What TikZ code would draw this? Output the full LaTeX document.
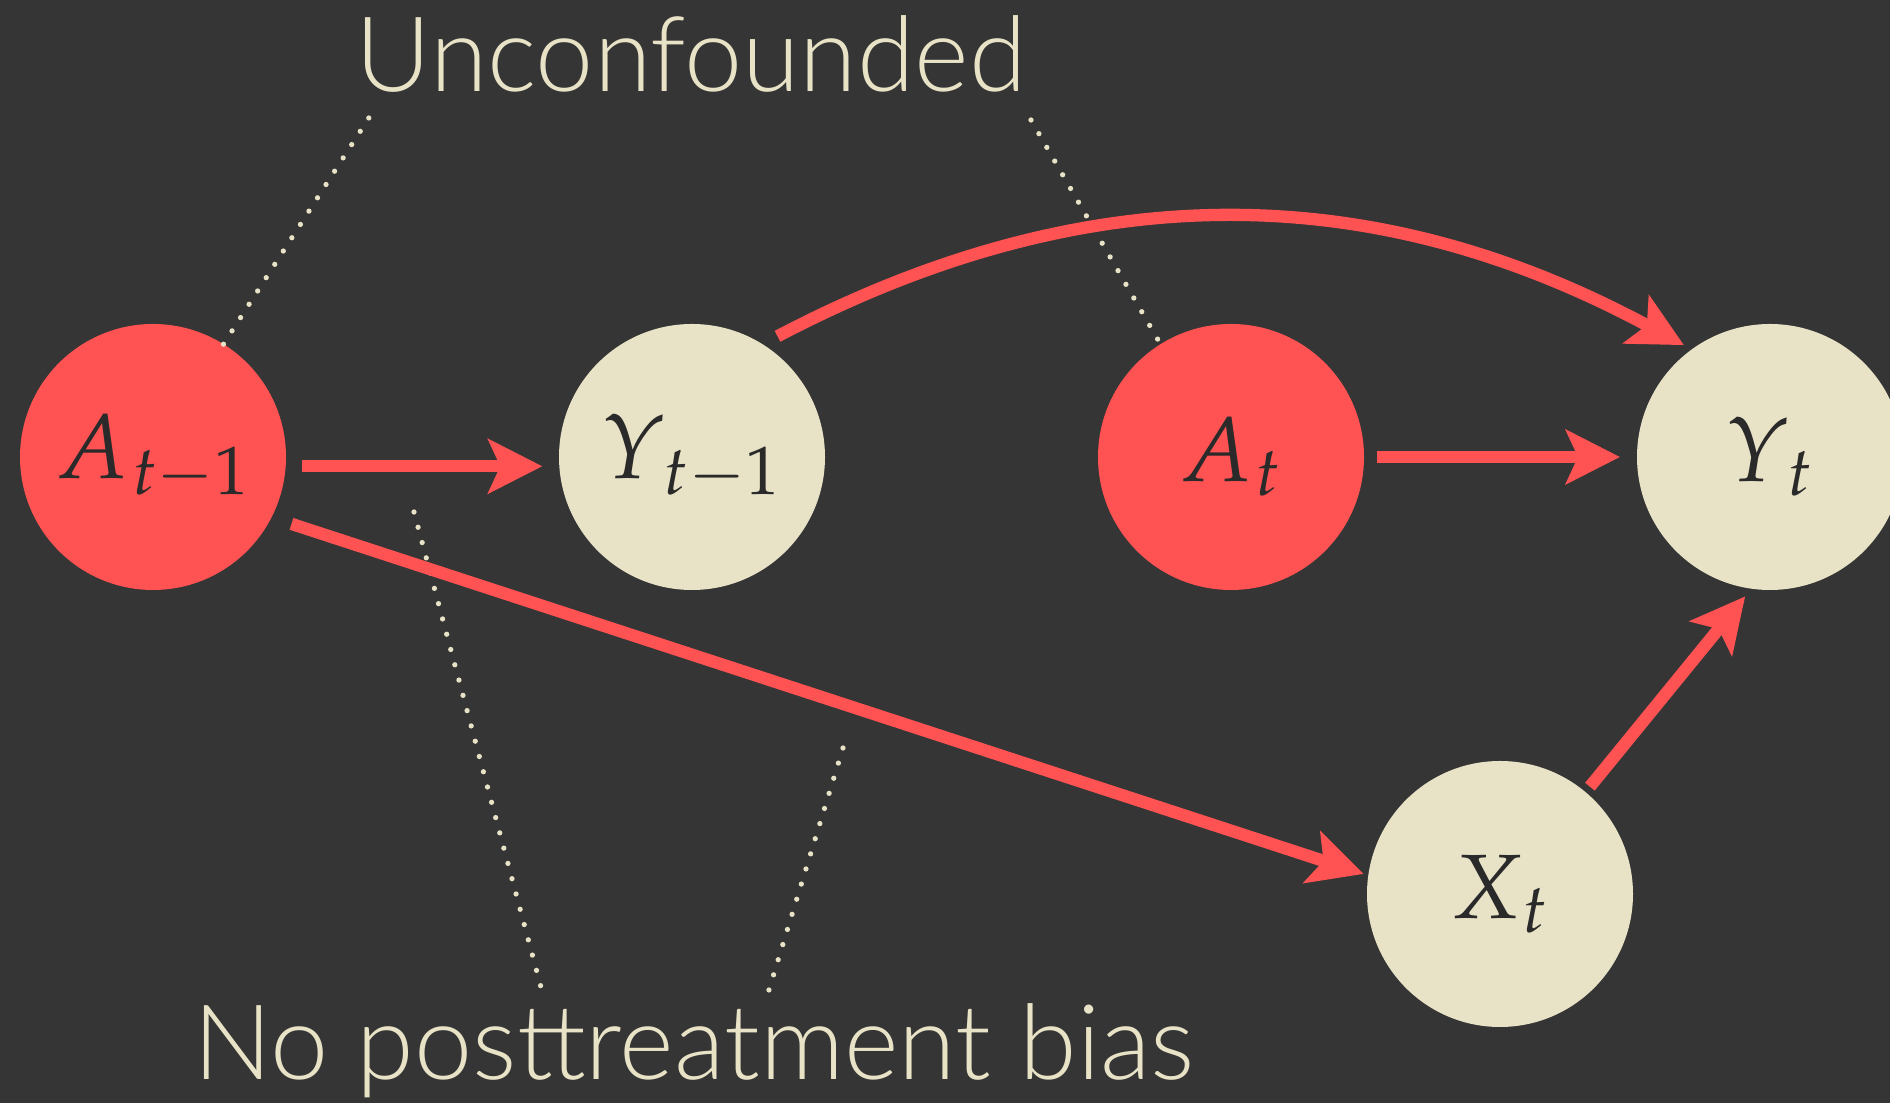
\documentclass[tikz,border=0pt]{standalone}
\usepackage{mathpazo}
\usepackage[no-math]{fontspec}
\usepackage{xcolor}
\usetikzlibrary{arrows.meta, positioning}
\newfontfamily\lightfont{Lato Light}
\DeclareMathSizes{26}{26}{19.5}{14}
\definecolor{bgdark}{HTML}{353535}
\definecolor{redfill}{HTML}{FF5252}
\definecolor{creamfill}{HTML}{E8E3C6}
\definecolor{inkdark}{HTML}{2A2A2A}

\begin{document}
\begin{tikzpicture}[
    node distance=2.73cm,
    var/.style={circle, minimum size=2.66cm, inner sep=0pt, outer sep=0pt, text=inkdark, font=\fontsize{26}{30}\selectfont},
    treat/.style={var, fill=redfill},
    outc/.style={var, fill=creamfill},
    arr/.style={-{Stealth[length=5.4mm, width=5.4mm, inset=1.2mm]}, line width=3.5pt, redfill},
    dots/.style={creamfill, line width=1.5pt, line cap=round, dash pattern=on 0pt off 4.5pt},
    lbl/.style={text=creamfill, font=\lightfont\fontsize{29.7}{34}\selectfont, anchor=base, inner sep=0pt},
]
\fill[bgdark] (0,0) rectangle (18.9,11.03);
\useasboundingbox (0,0) rectangle (18.9,11.03);

% Variables
\node[treat] (at1) at (1.53,6.46) {$A_{\kern1pt t\mathord{-}1}$};
\node[outc, right=of at1] (yt1) {$Y_{\kern2.5pt t\mathord{-}1}$};
\node[treat, right=of yt1] (at) {$A_{\kern1pt t}$};
\node[outc, right=of at] (yt) {$Y_{\kern2.5pt t}$};
\node[outc] (xt) at (15.00,2.09) {$X_{\kern1pt t}$};

% Labels
\node[lbl] (unconf) at (6.91,10.11) {Unconfounded};
\node[lbl] (nopost) at (6.94,0.23) {No posttreatment bias};
\coordinate (uc1) at (3.72,9.90);
\coordinate (uc2) at (10.31,9.83);
\coordinate (pt1) at (4.14,5.91);
\coordinate (pb1) at (5.42,1.12);
\coordinate (pt2) at (8.43,3.55);
\coordinate (pb2) at (7.68,1.10);

% Dotted pointers
\draw[dots] (at1.58) -- (uc1);
\draw[dots] (uc2) -- (at.122);
\draw[dots] (pt1) -- (pb1);
\draw[dots] (pt2) -- (pb2);

% Connections
\draw[arr, shorten <=0.16cm, shorten >=0.17cm] (at1.-4) -- (yt1.184);
\draw[arr, shorten <=0.13cm, shorten >=0.17cm] (at) -- (yt);
\draw[arr, shorten <=0.17cm, shorten >=0.09cm] (yt1.58) to[bend left=28] (yt.126);
\draw[arr, shorten <=0.21cm, shorten >=0.05cm] (at1.-27) -- (xt.172);
\draw[arr, shorten <=0.07cm, shorten >=0.10cm] (xt.50) -- (yt.262);
\end{tikzpicture}
\end{document}
